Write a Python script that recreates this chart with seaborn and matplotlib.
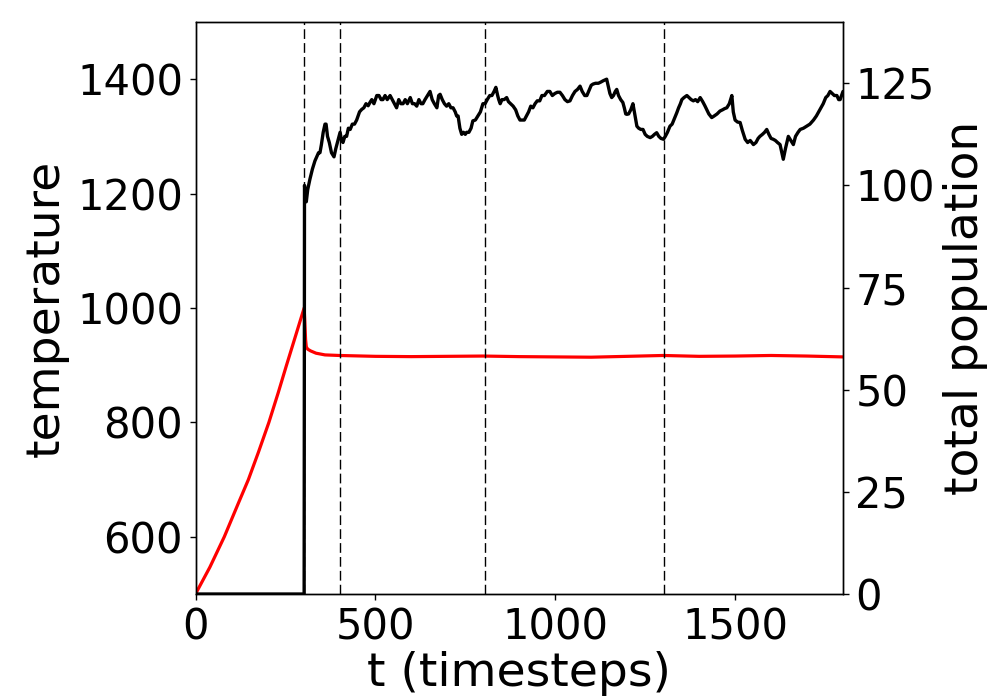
import matplotlib
matplotlib.use("Agg")
import matplotlib.pyplot as plt
import seaborn as sns
import pandas as pd

# ---------------- data ----------------
temp_t = [0, 40, 80, 120, 147, 175, 204, 230, 253, 280, 302,
          304, 306, 308, 312, 320, 335, 360, 400, 500, 600, 700, 800,
          900, 1000, 1100, 1200, 1300, 1400, 1500, 1600, 1700, 1800]
temperature = [500, 547, 600, 660, 700, 748, 800, 852, 900, 955, 1000,
               975, 945, 932, 928, 925, 921, 918, 917, 915.5, 915, 915.5, 916,
               915, 914.5, 914, 915.5, 917, 915.5, 916, 917, 916, 914.5]

pop_t = [0, 302, 303, 305, 308, 312, 318, 325, 332, 337, 342, 346, 350, 355, 360, 363,
         367, 372, 378, 385, 390, 396, 402, 406, 410, 415, 420, 425, 430, 436, 442,
         448, 452, 456, 462, 468, 474, 480, 485, 490, 496, 504, 510, 516, 521, 527,
         533, 541, 547, 553, 559, 565, 571, 577, 583, 589, 597, 603, 609, 615, 621,
         627, 632, 638, 645, 652, 658, 664, 671, 676, 680, 686, 692, 698, 704, 710,
         716, 722, 726, 730, 735, 740, 745, 750, 754, 760, 766, 771, 778, 785, 792,
         799, 805, 811, 818, 824, 830, 835, 840, 843, 847, 852, 858, 865, 870, 876,
         883, 890, 896, 902, 908, 914, 920, 926, 932, 938, 944, 950, 957, 963, 970,
         978, 985, 992, 999, 1006, 1013, 1020, 1027, 1034, 1041, 1048, 1055, 1062,
         1069, 1075, 1082, 1088, 1095, 1100, 1105, 1112, 1120, 1127, 1133, 1138,
         1143, 1148, 1152, 1157, 1162, 1167, 1171, 1176, 1182, 1188, 1192, 1196,
         1199, 1204, 1210, 1216, 1222, 1227, 1232, 1238, 1244, 1250, 1256, 1264,
         1270, 1276, 1282, 1288, 1294, 1301, 1306, 1312, 1319, 1325, 1332, 1338,
         1343, 1348, 1352, 1358, 1366, 1372, 1378, 1384, 1390, 1396, 1403, 1410,
         1416, 1421, 1427, 1435, 1442, 1450, 1458, 1465, 1471, 1477, 1484, 1491,
         1495, 1500, 1507, 1514, 1520, 1528, 1535, 1542, 1551, 1558, 1564, 1569,
         1576, 1582, 1588, 1594, 1600, 1606, 1612, 1618, 1625, 1630, 1634, 1640,
         1648, 1655, 1662, 1668, 1675, 1681, 1690, 1699, 1708, 1718, 1726, 1736,
         1745, 1752, 1758, 1764, 1770, 1776, 1783, 1788, 1792, 1796, 1800]
population = [0, 0, 100, 98, 96, 99, 101.5, 104, 106, 107, 108, 108, 110, 113, 115, 115,
              112, 110.5, 108, 107, 109, 111, 113, 111, 110.5, 112, 112, 114, 113.7, 115, 115,
              116, 117, 118, 118.6, 119, 120, 119.5, 120.3, 121, 120, 122, 122, 121, 121, 122,
              121, 122, 121, 120, 119, 121, 120, 120, 121, 120, 121.5, 120, 120, 119.4, 121,
              120, 120, 121, 122, 123, 121, 120, 119, 122, 122.3, 121, 120, 119.4, 120, 119,
              119, 118, 117, 117, 114, 112.5, 113, 112.5, 113, 113, 114, 115.8, 116, 117, 118,
              120, 120, 121, 122, 122, 123, 124, 122, 121, 120, 121, 121, 121.5, 120.5, 120,
              119.4, 118.5, 117, 116, 116, 116, 117, 118, 119.4, 119, 120, 120.7, 120.7, 122, 122,
              123, 123, 122, 122.5, 122.8, 122.8, 122, 121, 120.5, 120.7, 122, 123, 123.5,
              124.3, 123, 122, 122, 123.5, 124.5, 124.8, 125, 125, 125.3, 125.6, 125.8,
              126, 124, 122.5, 121.5, 122, 123, 123.5, 122, 121, 120.3, 119, 117.5,
              117.4, 117.5, 118.5, 120, 117, 114.5, 114, 113.7, 113.7, 112.5, 112, 111.7,
              112, 112.5, 112.9, 112, 111.5, 111.3, 112, 113, 114.5, 115, 116.5, 117.8,
              119, 120, 121, 121.5, 122, 121.5, 121, 120.7, 121, 120.5, 121.5, 120.5,
              119.5, 118.6, 117.5, 116.6, 117, 117.5, 118.2, 118.5, 118.8, 119, 120, 122,
              118, 116, 115.5, 115.4, 113.5, 111.3, 110.5, 111, 110, 110.5, 111.5, 112,
              112.5, 113, 113.7, 112.5, 111.5, 111.3, 111, 110.5, 110, 108, 106.4, 109,
              112, 111, 110, 112, 113, 113.7, 114, 114.5, 115, 116, 117, 118.6,
              120, 121.5, 122, 123, 122.5, 122, 122, 121, 121, 122, 123]

phase_marks = [302, 403, 804, 1303]
x_ticks = [0, 500, 1000, 1500]
temp_ticks = [600, 800, 1000, 1200, 1400]
pop_ticks = [0, 25, 50, 75, 100, 125]

# ---------------- style ----------------
sns.set_style("ticks", {"axes.edgecolor": "black", "xtick.color": "black",
                        "ytick.color": "black", "text.color": "black",
                        "axes.labelcolor": "black"})
plt.rcParams['font.family'] = ['DejaVu Sans']

df_temp = pd.DataFrame({"t": temp_t, "temperature": temperature})
df_pop = pd.DataFrame({"t": pop_t, "population": population})

fig = plt.figure(figsize=(10, 7), dpi=100)
ax = fig.add_subplot(111)
fig.subplots_adjust(left=0.1955, right=0.843, top=0.9686, bottom=0.1514)

sns.lineplot(data=df_temp, x="t", y="temperature", ax=ax, color="red",
             linewidth=2.3, estimator=None, sort=False)
for m in phase_marks:
    ax.axvline(m, color="black", linestyle=(0, (7, 3)), linewidth=1.0)

ax2 = ax.twinx()
sns.lineplot(data=df_pop, x="t", y="population", ax=ax2, color="black",
             linewidth=2.4, estimator=None, sort=False)

ax.set_xlim(0, 1800)
ax.set_ylim(500, 1500)
ax2.set_ylim(0, 140)
ax.set_xticks(x_ticks)
ax.set_yticks(temp_ticks)
ax2.set_yticks(pop_ticks)

ax.set_xlabel("t (timesteps)", fontsize=34, labelpad=2)
ax.set_ylabel("temperature", fontsize=34, labelpad=6)
ax2.set_ylabel("total population", fontsize=34, labelpad=6)
ax.tick_params(labelsize=30, length=4, width=1, pad=5)
ax2.tick_params(labelsize=30, length=4, width=1, pad=5)
for a in (ax, ax2):
    for s in a.spines.values():
        s.set_linewidth(1.0)
        s.set_color("black")

fig.savefig("out.png", dpi=100)
